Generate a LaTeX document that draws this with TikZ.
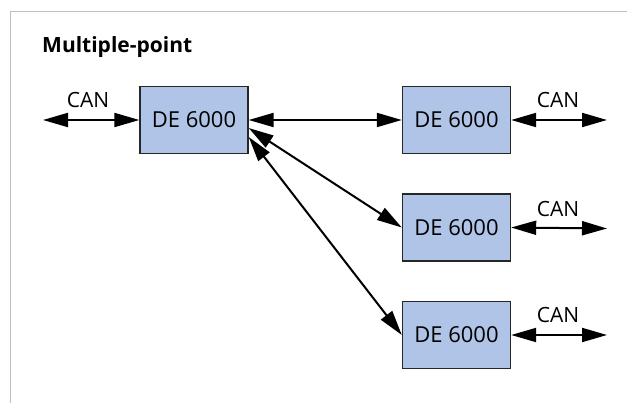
\documentclass[tikz,border=0pt]{standalone}
\usepackage{fontspec}
\setmainfont{Open Sans}
\usetikzlibrary{arrows.meta}
\definecolor{boxblue}{RGB}{175,196,230}
\definecolor{framegray}{RGB}{190,190,190}
\tikzset{
  devbox/.style={draw=black!85, line width=1.4pt, fill=boxblue, minimum width=108pt, minimum height=67pt, inner sep=0pt, font=\fontsize{22}{26}\selectfont},
  link/.style={line width=2pt, {Triangle[length=25pt,width=14pt]}-{Triangle[length=25pt,width=14pt]}},
  canlbl/.style={anchor=base, inner sep=0pt, font=\fontsize{21}{25}\selectfont}
}
\begin{document}
\begin{tikzpicture}[x=1pt,y=-1pt]
\useasboundingbox (0,0) rectangle (627,403);
\draw[framegray, line width=1pt] (10,403) -- (10,12) -- (627,12);
\node[anchor=base west, inner sep=0pt, font=\bfseries\fontsize{21}{25}\selectfont] (title) at (42,53) {Multiple-point};

\node[devbox] (b1) at (194,120) {DE 6000};
\node[devbox] (b2) at (456.5,120) {DE 6000};
\node[devbox] (b3) at (456.5,227.5) {DE 6000};
\node[devbox] (b4) at (456.5,335) {DE 6000};

\coordinate (c1) at (43,120);
\coordinate (c2) at (607,120);
\coordinate (c3) at (607,228.5);
\coordinate (c4) at (607,335);

\draw[link] (c1) -- (b1.west);
\draw[link] (b2.east) -- (c2);
\draw[link] (b3.east) -- (c3);
\draw[link] (b4.east) -- (c4);

\node[canlbl] (l1) at (88,108) {CAN};
\node[canlbl] (l2) at (558,108) {CAN};
\node[canlbl] (l3) at (558,216.5) {CAN};
\node[canlbl] (l4) at (558,323) {CAN};

\draw[link] (b1.east) -- (b2.west);
\draw[link] ([yshift=-8pt]b1.east) -- (b3.west);
\draw[link] ([yshift=-17pt]b1.east) -- (b4.west);
\end{tikzpicture}
\end{document}
